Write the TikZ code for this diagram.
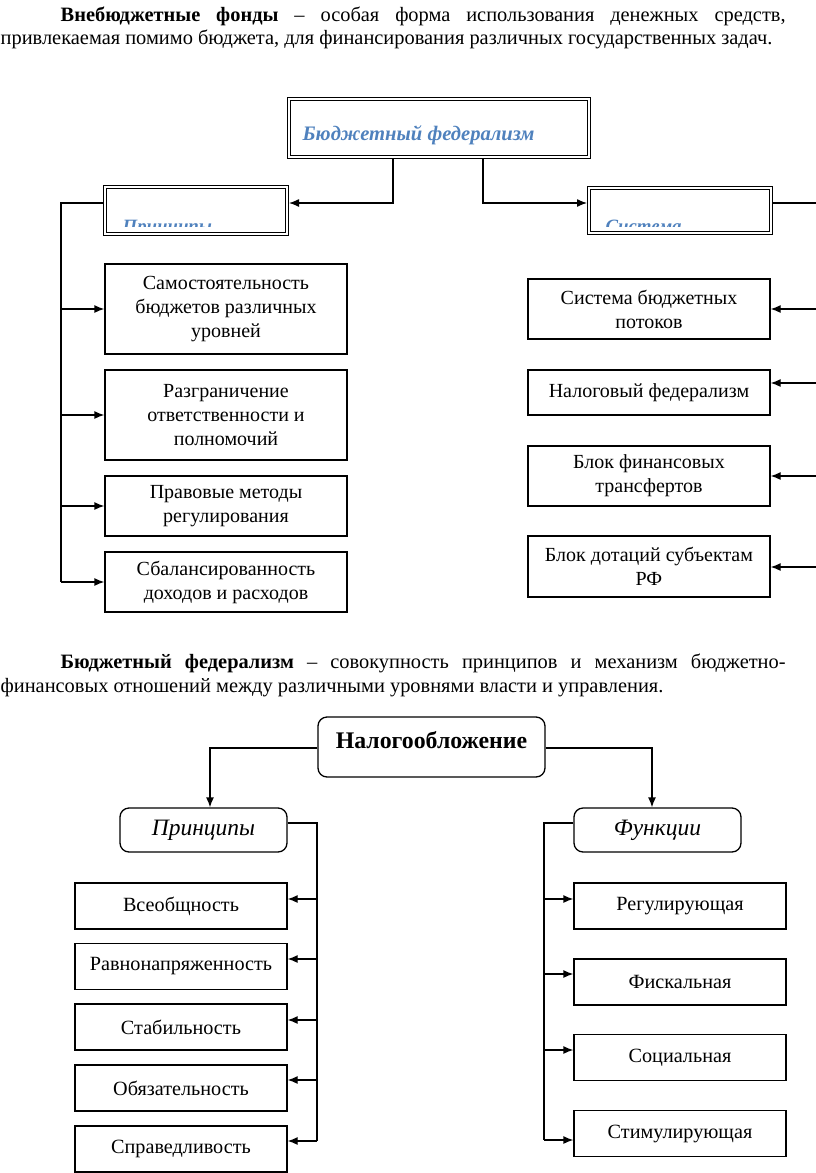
\documentclass[tikz,border=0pt]{standalone}
\usepackage{fontspec}
\setmainfont{Liberation Serif}
\usetikzlibrary{arrows.meta,calc}
\definecolor{hblue}{RGB}{79,129,189}
\begin{document}
\begin{tikzpicture}[x=1pt,y=-1pt,
  line width=1.3pt,
  arr/.style={-{Latex[length=10pt,width=8pt]}, line width=1.3pt},
  dbox/.style={draw, double, double distance=2pt, line width=1pt, inner sep=0pt, outer sep=2pt},
  box/.style={draw, line width=1.3pt, align=center, inner sep=0pt, font=\fontsize{20}{24}\selectfont},
  rbox/.style={box, rounded corners=9pt},
  para/.style={anchor=base west, inner sep=0pt, font=\fontsize{20.4}{23}\selectfont},
  htext/.style={anchor=base west, inner sep=0pt, text=hblue, font=\fontsize{18.8}{21}\selectfont\bfseries\itshape},
]
\useasboundingbox (0,0) rectangle (816,1173);

% paragraph 1
\node[para] (p1a) at (60,21) {\makebox[725pt][s]{\textbf{Внебюджетные фонды} – особая форма использования денежных средств,}};
\node[para] (p1b) at (0,44) {привлекаемая помимо бюджета, для финансирования различных государственных задач.};

% top diagram
\node[dbox, minimum width=300pt, minimum height=58pt] (fed) at (439,128) {};
\node[htext, font=\fontsize{20.6}{23}\selectfont\bfseries\itshape] (fedt) at (302,140) {Бюджетный федерализм};

\node[dbox, minimum width=182pt, minimum height=47pt] (prl) at (196,210.5) {};
\begin{scope}
\clip (108,190) rectangle (286,226);
\node[htext] (prlt) at (122,232) {Принципы};
\end{scope}
\node[dbox, minimum width=182pt, minimum height=45pt] (sys) at (680,210.5) {};
\begin{scope}
\clip (591,190) rectangle (769,226);
\node[htext] (syst) at (605,232) {Система};
\end{scope}

\coordinate (c1) at (393,203);
\coordinate (c2) at (483,203);
\draw[arr] (fed.south -| c1) -- (c1) -- (prl.east |- c1);
\draw[arr] (fed.south -| c2) -- (c2) -- (sys.west |- c2);

% left column
\node[box, minimum width=242pt, minimum height=90pt] (a1) at (226,309) {Самостоятельность\\бюджетов различных\\уровней};
\node[box, minimum width=242pt, minimum height=90pt] (a2) at (226,415) {Разграничение\\ответственности и\\полномочий};
\node[box, minimum width=242pt, minimum height=60pt] (a3) at (226,506) {Правовые методы\\регулирования};
\node[box, minimum width=242pt, minimum height=60pt] (a4) at (226,582) {Сбалансированность\\доходов и расходов};
\coordinate (lt) at (61,203);
\coordinate (lb) at (61,582);
\draw (prl.west |- lt) -- (lt) -- (lb);
\foreach \b in {a1,a2,a3,a4} \draw[arr] (lt |- \b.west) -- (\b.west);

% right column
\node[box, minimum width=242pt, minimum height=60pt] (r1) at (649,309) {Система бюджетных\\потоков};
\node[box, minimum width=242pt, minimum height=45pt] (r2) at (649,392.5) {Налоговый федерализм};
\node[box, minimum width=242pt, minimum height=60pt] (r3) at (649,476) {Блок финансовых\\трансфертов};
\node[box, minimum width=242pt, minimum height=61pt] (r4) at (649,566.5) {Блок дотаций субъектам\\РФ};
\coordinate (rt) at (816,203);
\draw (sys.east |- rt) -- (rt);
\coordinate (re1) at (816,309);
\coordinate (re2) at (816,383);
\coordinate (re3) at (816,476);
\coordinate (re4) at (816,567);
\draw[arr] (re1) -- (re1 -| r1.east);
\draw[arr] (re2) -- (re2 -| r2.east);
\draw[arr] (re3) -- (re3 -| r3.east);
\draw[arr] (re4) -- (re4 -| r4.east);

% paragraph 2
\node[para] (p2a) at (60,668) {\makebox[725pt][s]{\textbf{Бюджетный федерализм} – совокупность принципов и механизм бюджетно-}};
\node[para] (p2b) at (0,692) {финансовых отношений между различными уровнями власти и управления.};

% bottom diagram
\node[rbox, minimum width=227pt, minimum height=60pt, font=\fontsize{23.8}{28}\selectfont\bfseries, text height=16pt, text depth=13pt] (nal) at (431.5,747) {Налогообложение};
\node[rbox, minimum width=167pt, minimum height=44pt, font=\fontsize{23.5}{28}\selectfont\itshape] (prn) at (203.5,830) {Принципы};
\node[rbox, minimum width=167pt, minimum height=44pt, font=\fontsize{23.5}{28}\selectfont\itshape] (fun) at (657.5,830) {Функции};
\coordinate (c3) at (210,748);
\coordinate (c4) at (652,748);
\draw[arr] (nal.west |- c3) -- (c3) -- (c3 |- prn.north);
\draw[arr] (nal.east |- c4) -- (c4) -- (c4 |- fun.north);

\tikzset{sbox/.style={box, minimum width=212pt, minimum height=46pt, font=\fontsize{20.2}{24}\selectfont}}
\node[sbox] (q1) at (181,906) {Всеобщность};
\node[sbox] (q2) at (181,966.5) {Равнонапряженность};
\node[sbox] (q3) at (181,1027) {Стабильность};
\node[sbox] (q4) at (181,1088) {Обязательность};
\node[sbox] (q5) at (181,1149) {Справедливость};
\coordinate (pv) at (317,823);
\coordinate (pvb) at (317,1141);
\draw (prn.east |- pv) -- (pv) -- (pvb);
\coordinate (qa1) at (317,899);
\coordinate (qa2) at (317,959);
\coordinate (qa3) at (317,1020);
\coordinate (qa4) at (317,1080);
\coordinate (qa5) at (317,1141);
\foreach \i in {1,...,5} \draw[arr] (qa\i) -- (qa\i -| q\i.east);

\node[sbox] (f1) at (680,906) {Регулирующая};
\node[sbox] (f2) at (680,982) {Фискальная};
\node[sbox] (f3) at (680,1057.5) {Социальная};
\node[sbox] (f4) at (680,1133.5) {Стимулирующая};
\coordinate (fv) at (544,823);
\coordinate (fvb) at (544,1140);
\draw (fun.west |- fv) -- (fv) -- (fvb);
\coordinate (fa1) at (544,899);
\coordinate (fa2) at (544,974);
\coordinate (fa3) at (544,1050);
\coordinate (fa4) at (544,1140);
\foreach \i in {1,...,4} \draw[arr] (fa\i) -- (fa\i -| f\i.west);
\end{tikzpicture}
\end{document}
